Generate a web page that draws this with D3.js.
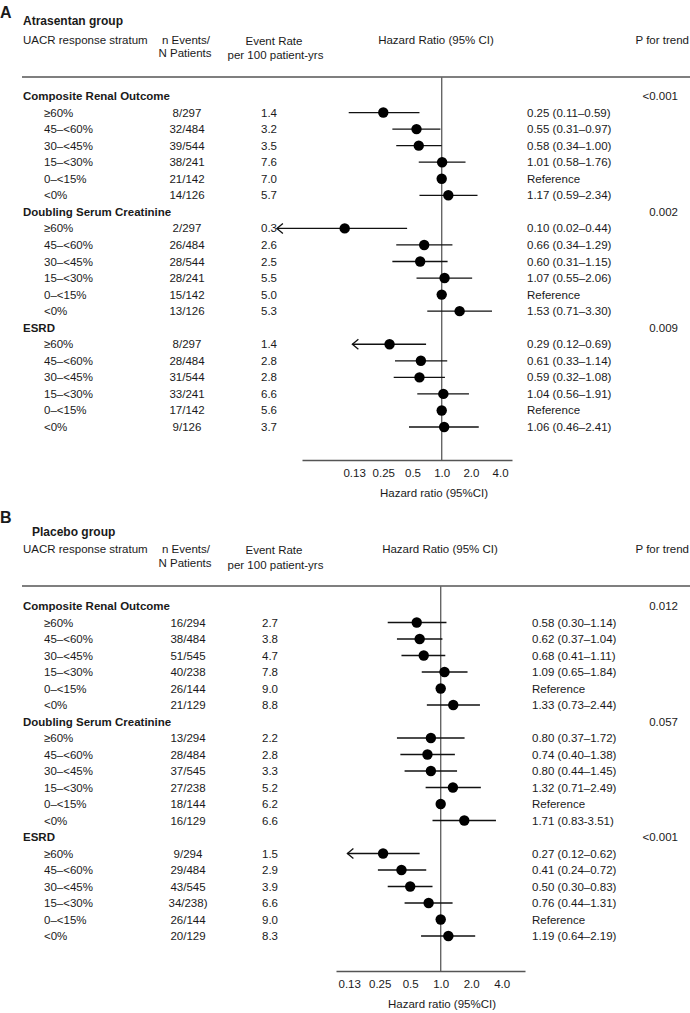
<!DOCTYPE html>
<html><head><meta charset="utf-8">
<script src="https://cdn.jsdelivr.net/npm/d3@7"></script>
<style>
html,body{margin:0;padding:0;background:#fff;}
svg text{font-family:"Liberation Sans",Arial,Helvetica,sans-serif;fill:#1a1a1a;}
</style></head><body>
<svg id="chart" width="690" height="1013"></svg>
<script>
// ---------- DATA ----------
const strata = ["≥60%", "45–<60%", "30–<45%", "15–<30%", "0–<15%", "<0%"];
const outcomes = ["Composite Renal Outcome", "Doubling Serum Creatinine", "ESRD"];
const tickValues = [0.125, 0.25, 0.5, 1, 2, 4];
const tickLabels = ["0.13", "0.25", "0.5", "1.0", "2.0", "4.0"];

// Atrasentan group (panel A)
const atrEvents = ["8/297","32/484","39/544","38/241","21/142","14/126",
                   "2/297","26/484","28/544","28/241","15/142","13/126",
                   "8/297","28/484","31/544","33/241","17/142","9/126"];
const atrRates = ["1.4","3.2","3.5","7.6","7.0","5.7",
                  "0.3","2.6","2.5","5.5","5.0","5.3",
                  "1.4","2.8","2.8","6.6","5.6","3.7"];
const atrHR = [0.25,0.55,0.58,1.01,1,1.17, 0.10,0.66,0.60,1.07,1,1.53, 0.29,0.61,0.59,1.04,1,1.06];
const atrLo = [0.11,0.31,0.34,0.58,null,0.59, 0.02,0.34,0.31,0.55,null,0.71, 0.12,0.33,0.32,0.56,null,0.46];
const atrHi = [0.59,0.97,1.00,1.76,null,2.34, 0.44,1.29,1.15,2.06,null,3.30, 0.69,1.14,1.08,1.91,null,2.41];
const atrArrow = [false,false,false,false,false,false, true,false,false,false,false,false, true,false,false,false,false,false];
const atrLabels = ["0.25 (0.11–0.59)","0.55 (0.31–0.97)","0.58 (0.34–1.00)","1.01 (0.58–1.76)","Reference","1.17 (0.59–2.34)",
                   "0.10 (0.02–0.44)","0.66 (0.34–1.29)","0.60 (0.31–1.15)","1.07 (0.55–2.06)","Reference","1.53 (0.71–3.30)",
                   "0.29 (0.12–0.69)","0.61 (0.33–1.14)","0.59 (0.32–1.08)","1.04 (0.56–1.91)","Reference","1.06 (0.46–2.41)"];
const atrP = ["<0.001", "0.002", "0.009"];

// Placebo group (panel B)
const plcEvents = ["16/294","38/484","51/545","40/238","26/144","21/129",
                   "13/294","28/484","37/545","27/238","18/144","16/129",
                   "9/294","29/484","43/545","34/238)","26/144","20/129"];
const plcRates = ["2.7","3.8","4.7","7.8","9.0","8.8",
                  "2.2","2.8","3.3","5.2","6.2","6.6",
                  "1.5","2.9","3.9","6.6","9.0","8.3"];
const plcHR = [0.58,0.62,0.68,1.09,1,1.33, 0.80,0.74,0.80,1.32,1,1.71, 0.27,0.41,0.50,0.76,1,1.19];
const plcLo = [0.30,0.37,0.41,0.65,null,0.73, 0.37,0.40,0.44,0.71,null,0.83, 0.12,0.24,0.30,0.44,null,0.64];
const plcHi = [1.14,1.04,1.11,1.84,null,2.44, 1.72,1.38,1.45,2.49,null,3.51, 0.62,0.72,0.83,1.31,null,2.19];
const plcArrow = [false,false,false,false,false,false, false,false,false,false,false,false, true,false,false,false,false,false];
const plcLabels = ["0.58 (0.30–1.14)","0.62 (0.37–1.04)","0.68 (0.41–1.11)","1.09 (0.65–1.84)","Reference","1.33 (0.73–2.44)",
                   "0.80 (0.37–1.72)","0.74 (0.40–1.38)","0.80 (0.44–1.45)","1.32 (0.71–2.49)","Reference","1.71 (0.83-3.51)",
                   "0.27 (0.12–0.62)","0.41 (0.24–0.72)","0.50 (0.30–0.83)","0.76 (0.44–1.31)","Reference","1.19 (0.64–2.19)"];
const plcP = ["0.012", "0.057", "<0.001"];

// ---------- LAYOUT ----------
const svg = d3.select("#chart");
const FS = 11.5;

const panels = [
  { letter:"A", title:"Atrasentan group", events:atrEvents, rates:atrRates, hr:atrHR, lo:atrLo, hi:atrHi,
    arrow:atrArrow, labels:atrLabels, p:atrP,
    letterY:12, titleX:23, titleY:21, headY:40, head2Y:54, sepY:77, row0:96, rowStep:16.55,
    axisY:460, axisX0:302, axisX1:512, oneX:441.7, step:29.2, axisLabelX:434,
    nX:187, rateX:261, hrX:527, pX:678, hrHeadX:436 },
  { letter:"B", title:"Placebo group", events:plcEvents, rates:plcRates, hr:plcHR, lo:plcLo, hi:plcHi,
    arrow:plcArrow, labels:plcLabels, p:plcP,
    letterY:517, titleX:32, titleY:532, headY:549, head2Y:564, sepY:586, row0:606, rowStep:16.5,
    axisY:971, axisX0:336, axisX1:525, oneX:440.7, step:30.5, axisLabelX:442,
    nX:188, rateX:262, hrX:532, pX:678, hrHeadX:440 }
];

panels.forEach(P => {
  const g = svg.append("g");
  // log2 scale: domain derived from axis extent
  const lo = Math.pow(2, (P.axisX0 - P.oneX) / P.step);
  const hi = Math.pow(2, (P.axisX1 - P.oneX) / P.step);
  const x = d3.scaleLog().base(2).domain([lo, hi]).range([P.axisX0, P.axisX1]);

  const t = (xx, yy, txt, opts={}) => g.append("text")
      .attr("x", xx).attr("y", yy).attr("dominant-baseline","central")
      .attr("text-anchor", opts.anchor || "start")
      .style("font-size", (opts.size || FS) + "px")
      .style("font-weight", opts.bold ? "bold" : "normal")
      .text(txt);

  t(0, P.letterY, P.letter, {bold:true, size:16});
  t(P.titleX, P.titleY, P.title, {bold:true, size:12});
  t(23, P.headY, "UACR response stratum");
  t(186, P.headY, "n Events/", {anchor:"middle"});
  t(185, P.head2Y - 1, "N Patients", {anchor:"middle"});
  t(274, P.headY + 1, "Event Rate", {anchor:"middle"});
  t(275.5, P.head2Y + 1, "per 100 patient-yrs", {anchor:"middle"});
  t(P.hrHeadX, P.headY, "Hazard Ratio (95% CI)", {anchor:"middle"});
  t(689, P.headY, "P for trend", {anchor:"end"});

  // separator
  g.append("line").attr("x1", 22).attr("x2", 690).attr("y1", P.sepY).attr("y2", P.sepY)
    .attr("stroke", "#555").attr("stroke-width", 1.5);

  // reference vertical line at HR = 1
  g.append("line").attr("x1", x(1)).attr("x2", x(1)).attr("y1", P.sepY).attr("y2", P.axisY)
    .attr("stroke", "#666").attr("stroke-width", 1.4);

  // axis
  const axis = d3.axisBottom(x).tickValues(tickValues)
      .tickFormat((d,i) => tickLabels[i]).tickSizeInner(0).tickSizeOuter(0).tickPadding(9);
  const ag = g.append("g").attr("transform", `translate(0,${P.axisY})`).call(axis);
  ag.select(".domain").attr("stroke", "#555").attr("stroke-width", 1.4);
  ag.selectAll("text").style("font-size", FS + "px").attr("fill", "#1a1a1a");
  t(P.axisLabelX, P.axisY + 33, "Hazard ratio (95%CI)", {anchor:"middle"});

  outcomes.forEach((name, oi) => {
    const hy = P.row0 + oi * 7 * P.rowStep;
    t(23, hy, name, {bold:true});
    t(P.pX, hy, P.p[oi], {anchor:"end"});
    strata.forEach((s, si) => {
      const k = oi * 6 + si;
      const y = hy + (si + 1) * P.rowStep;
      t(44, y, s);
      t(P.nX, y, P.events[k], {anchor:"middle"});
      t(P.rateX, y, P.rates[k]);
      t(P.hrX, y, P.labels[k]);
      if (P.lo[k] != null) {
        const x0 = x(P.lo[k]), x1 = x(P.hi[k]);
        g.append("line").attr("x1", x0).attr("x2", x1).attr("y1", y).attr("y2", y)
          .attr("stroke", "#111").attr("stroke-width", 1.3);
        if (P.arrow[k]) {
          g.append("path").attr("d", `M${x0+6},${y-5}L${x0},${y}L${x0+6},${y+5}`)
            .attr("fill","none").attr("stroke","#111").attr("stroke-width",1.3);
        }
      }
      g.append("circle").attr("cx", x(P.hr[k])).attr("cy", y).attr("r", 5.2).attr("fill", "#000");
    });
  });
});
</script>
</body></html>
